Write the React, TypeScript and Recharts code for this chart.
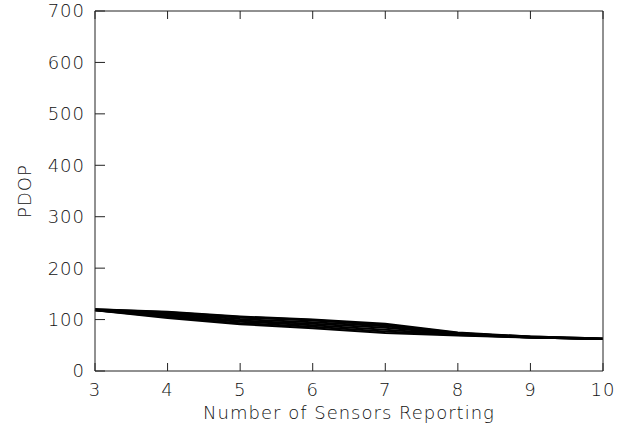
import { LineChart, Line, XAxis, YAxis, Label } from 'recharts';

// PDOP vs number of reporting sensors, one line per sensor geometry
const sensors = [3, 4, 5, 6, 7, 8, 9, 10];
const geomA = [120, 115, 106, 100, 92, 75, 67, 63];
const geomB = [119, 113, 104, 98, 90, 74, 66, 62];
const geomC = [119, 111, 101, 95, 87, 73, 66, 62];
const geomD = [119, 109, 98, 92, 84, 72, 65, 62];
const geomE = [118, 107, 96, 89, 80, 71, 65, 62];
const geomF = [118, 105, 93, 86, 77, 70, 65, 62];
const geomG = [118, 103, 91, 83, 74, 69, 65, 62];
const geomH = [120, 114, 105, 99, 89, 73, 67, 63];
const xTicks = [3, 4, 5, 6, 7, 8, 9, 10];
const yTicks = [0, 100, 200, 300, 400, 500, 600, 700];

const series = [geomA, geomB, geomC, geomD, geomE, geomF, geomG, geomH];

const data = sensors.map((n, i) => {
  const row: Record<string, number> = { n };
  series.forEach((s, k) => {
    row[`g${k}`] = s[i];
  });
  return row;
});

const font = { fontFamily: 'DejaVu Sans', fontWeight: 200, fontSize: 18, fill: '#111', letterSpacing: 1 };
const axisStroke = '#222';

export default function App() {
  return (
    <div style={{ position: 'absolute', left: 0, top: 0, background: '#fff' }}>
      <LineChart width={618} height={439} data={data} margin={{ top: 0, right: 0, bottom: 0, left: 0 }}>
        <XAxis
          xAxisId="bottom"
          dataKey="n"
          type="number"
          domain={[3, 10]}
          ticks={xTicks}
          orientation="bottom"
          height={68}
          stroke={axisStroke}
          tickSize={-8}
          tickMargin={20}
          tick={font}
        >
          <Label value="Number of Sensors Reporting" position="insideBottom" offset={20} style={font} />
        </XAxis>
        <XAxis
          xAxisId="top"
          dataKey="n"
          type="number"
          domain={[3, 10]}
          ticks={xTicks}
          orientation="top"
          height={11}
          stroke={axisStroke}
          tickSize={-8}
          tickFormatter={() => ''}
        />
        <YAxis
          yAxisId="left"
          domain={[0, 700]}
          ticks={yTicks}
          width={95}
          stroke={axisStroke}
          tickSize={-10}
          tickMargin={20}
          tick={font}
        >
          <Label value="PDOP" angle={-90} position="insideLeft" offset={25} style={{ ...font, textAnchor: 'middle' }} />
        </YAxis>
        <YAxis
          yAxisId="right"
          orientation="right"
          domain={[0, 700]}
          ticks={yTicks}
          width={15}
          stroke={axisStroke}
          tickSize={-10}
          tickFormatter={() => ''}
        />
        {series.map((_, k) => (
          <Line
            key={k}
            xAxisId="bottom"
            yAxisId="left"
            dataKey={`g${k}`}
            type="linear"
            stroke="#000"
            strokeWidth={2}
            dot={false}
            isAnimationActive={false}
          />
        ))}
      </LineChart>
    </div>
  );
}
